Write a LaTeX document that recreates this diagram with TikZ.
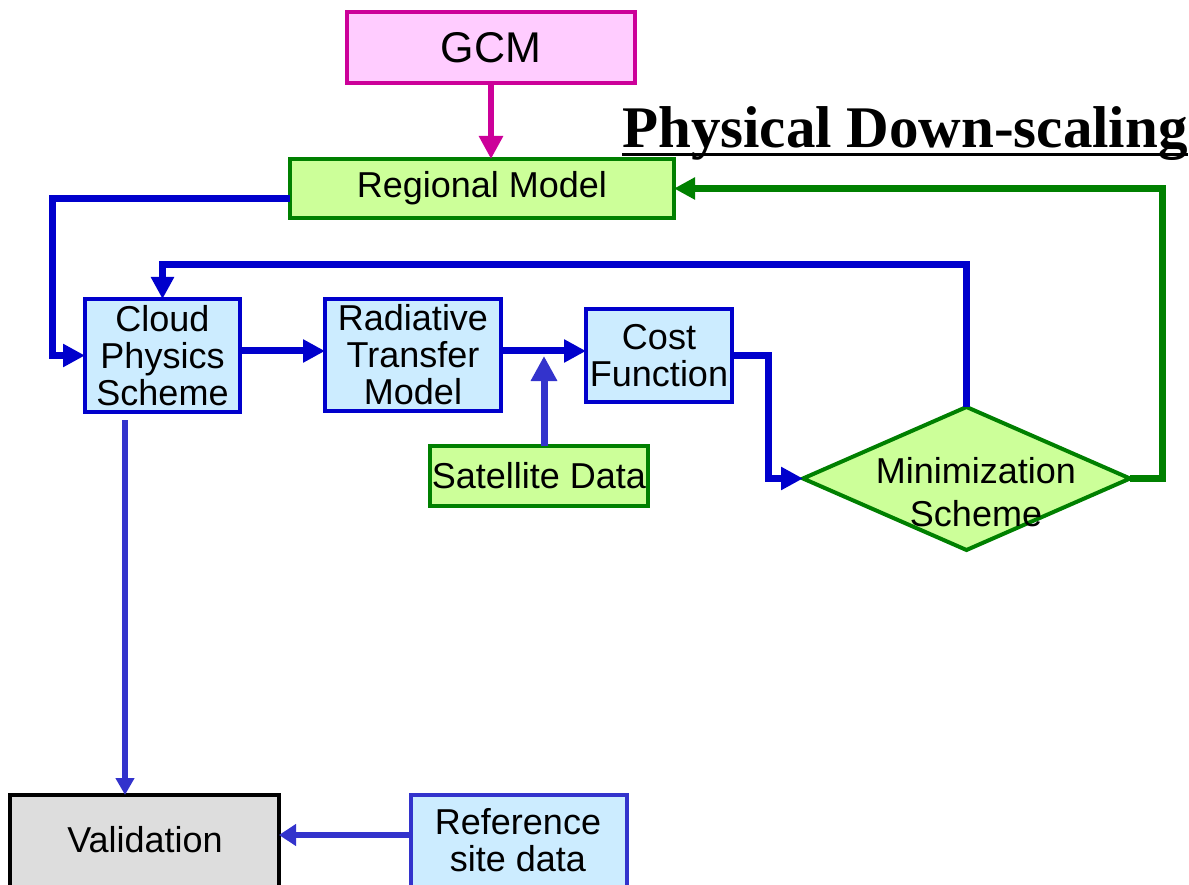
\documentclass[tikz,border=0pt]{standalone}
\usepackage{fontspec}
\setmainfont{Liberation Sans}
\newfontfamily\titlefont{Liberation Serif}
\usetikzlibrary{arrows.meta,shapes.geometric,calc}
\definecolor{flowblue}{HTML}{0000CC}
\definecolor{paleblue}{HTML}{3333CC}
\definecolor{flowgreen}{HTML}{008000}
\definecolor{limefill}{HTML}{CCFF99}
\definecolor{skyfill}{HTML}{CCECFF}
\definecolor{gcmline}{HTML}{CC0099}
\definecolor{gcmfill}{HTML}{FFCCFF}
\definecolor{greyfill}{HTML}{DDDDDD}
% heavy underline placed just under the baseline
\newcommand\heavyul[1]{\setbox0\hbox{#1}\rlap{\rule[-8pt]{\wd0}{3pt}}\box0}
\begin{document}
\begin{tikzpicture}[x=1pt,y=-1pt,
  box/.style={rectangle, line width=4pt, inner sep=0pt, outer sep=0pt,
    align=center, font=\fontsize{36}{37}\selectfont},
  bluebox/.style={box, draw=flowblue, fill=skyfill},
  greenbox/.style={box, draw=flowgreen, fill=limefill, line width=3.5pt},
  label/.style={inner sep=0pt, align=center, font=\fontsize{36}{37}\selectfont},
  flow/.style={line width=7pt, draw=flowblue, line join=miter,
    -{Triangle[length=22pt,width=22pt]}},
  feedback/.style={line width=7pt, draw=flowgreen, line join=miter,
    -{Triangle[length=21pt,width=21pt]}},
  thinflow/.style={line width=5.5pt, draw=paleblue,
    -{Triangle[length=17pt,width=18pt]}}
]
\useasboundingbox (0,0) rectangle (1189,885);

% boxes
\node[box, draw=gcmline, fill=gcmfill, line width=3.5pt,
  minimum width=288pt, minimum height=71pt,
  font=\fontsize{43}{44}\selectfont] (gcm) at (491,47.5) {GCM};
\node[greenbox, minimum width=384pt, minimum height=59pt] (reg) at (482,188.5) {Regional Model};
\node[bluebox, minimum width=155pt, minimum height=113pt] (cloud) at (162.5,355.5) {Cloud\\Physics\\Scheme};
\node[bluebox, minimum width=176pt, minimum height=112pt] (rad) at (413,355) {Radiative\\Transfer\\Model};
\node[bluebox, minimum width=146pt, minimum height=93pt] (cost) at (659,355.5) {Cost\\Function};
\node[greenbox, minimum width=218pt, minimum height=60pt] (sat) at (539,476) {Satellite Data};
\node[diamond, draw=flowgreen, fill=limefill, line width=4pt, inner sep=0pt, outer sep=0pt,
  minimum width=327pt, minimum height=143pt] (min) at (966.5,478.5) {};
\node[label, font=\fontsize{36}{43}\selectfont] (mintext) at (976,492) {Minimization\\Scheme};
\node[box, draw=black, fill=greyfill, line width=4pt,
  minimum width=269pt, minimum height=140pt] (val) at (144.5,865) {};
\node[label] (valtext) at (145,840) {Validation};
\node[box, draw=paleblue, fill=skyfill, line width=4pt,
  minimum width=216pt, minimum height=140pt] (ref) at (519,865) {};
\node[label] (reftext) at (518,840) {Reference\\site data};

% title
\node[inner sep=0pt, anchor=base west, font=\titlefont\bfseries\fontsize{59}{62}\selectfont]
  (title) at (622,148) {\heavyul{Physical Down-scaling}};

% routing points
\coordinate (regbus) at (52,199);
\coordinate (topbus) at (0,265);
\coordinate (mainrow) at (0,351);
\coordinate (costdrop) at (768,0);
\coordinate (rightbus) at (1162,0);
\coordinate (satjoin) at (544,356);
\coordinate (valdrop) at (125,420);
\coordinate (refrow) at (0,835);

% connectors
\draw[line width=6pt, draw=gcmline, -{Triangle[length=23pt,width=23pt]}]
  (gcm.south) -- (gcm.south |- reg.north);
\draw[flow] (reg.west |- regbus) -- (regbus) |- (cloud.west);
\draw[flow] (min.north) -- (min.north |- topbus) -| (cloud.north);
\draw[flow] (cloud.east |- mainrow) -- (rad.west |- mainrow);
\draw[flow] (rad.east |- mainrow) -- (cost.west |- mainrow);
\draw[line width=7pt, draw=paleblue, -{Triangle[length=25pt,width=25pt]}]
  (sat.north -| satjoin) -- (satjoin);
\draw[flow] (cost.east) -- (cost.east -| costdrop) |- (min.west);
\draw[feedback] (min.east) -- (min.east -| rightbus) |- (reg.east);
\draw[thinflow] (valdrop) -- (valdrop |- val.north);
\draw[thinflow, -{Triangle[length=17pt,width=21pt]}] (ref.west |- refrow) -- (val.east |- refrow);
\end{tikzpicture}
\end{document}
